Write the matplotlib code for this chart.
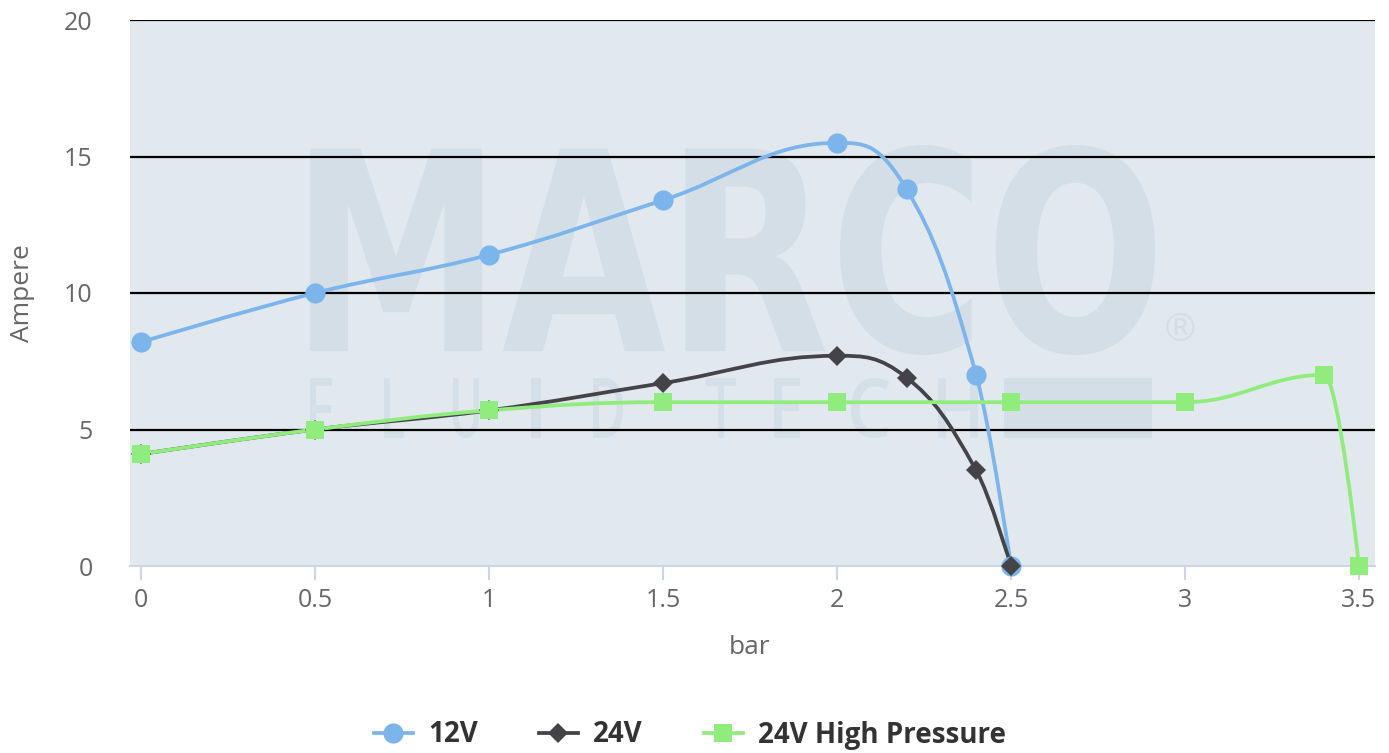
import numpy as np
import matplotlib.pyplot as plt
from matplotlib.path import Path
from matplotlib.patches import PathPatch, Rectangle
from matplotlib.textpath import TextPath
from matplotlib.font_manager import FontProperties
from matplotlib.lines import Line2D
import matplotlib.transforms as mtransforms

# pressure (bar) -> current (Ampere)
x_12v = [0, 0.5, 1, 1.5, 2, 2.2, 2.4, 2.5]
y_12v = [8.2, 10.0, 11.4, 13.4, 15.5, 13.8, 7.0, 0]

x_24v = [0, 0.5, 1, 1.5, 2, 2.2, 2.4, 2.5]
y_24v = [4.1, 5.0, 5.7, 6.7, 7.7, 6.9, 3.5, 0]

x_hp = [0, 0.5, 1, 1.5, 2, 2.5, 3, 3.4, 3.5]
y_hp = [4.1, 5.0, 5.7, 6.0, 6.0, 6.0, 6.0, 7.0, 0]

series_names = ["12V", "24V", "24V High Pressure"]
colors = ["#7cb5ec", "#434348", "#90ed7d"]
markers = ["o", "D", "s"]
xticks = [0, 0.5, 1, 1.5, 2, 2.5, 3, 3.5]
xtick_labels = ["0", "0.5", "1", "1.5", "2", "2.5", "3", "3.5"]
yticks = [0, 5, 10, 15, 20]


def spline_path(xs, ys, smoothing=1.5):
    # highcharts-like spline: cubic bezier with control points per point
    n = len(xs)
    left = [None] * n
    right = [None] * n
    for i in range(n):
        px, py = xs[i], ys[i]
        if i == 0 or i == n - 1:
            left[i] = (px, py)
            right[i] = (px, py)
            continue
        lx, ly = xs[i - 1], ys[i - 1]
        nx, ny = xs[i + 1], ys[i + 1]
        d = smoothing + 1
        lcx = (smoothing * px + lx) / d
        lcy = (smoothing * py + ly) / d
        rcx = (smoothing * px + nx) / d
        rcy = (smoothing * py + ny) / d
        if rcx != lcx:
            corr = (rcy - lcy) * (rcx - px) / (rcx - lcx) + py - rcy
            lcy += corr
            rcy += corr
        if lcy > max(ly, py):
            lcy = max(ly, py)
            rcy = 2 * py - lcy
        elif lcy < min(ly, py):
            lcy = min(ly, py)
            rcy = 2 * py - lcy
        if rcy > max(py, ny):
            rcy = max(py, ny)
            lcy = 2 * py - rcy
        elif rcy < min(py, ny):
            rcy = min(py, ny)
            lcy = 2 * py - rcy
        left[i] = (lcx, lcy)
        right[i] = (rcx, rcy)
    verts = [(xs[0], ys[0])]
    codes = [Path.MOVETO]
    for i in range(1, n):
        verts += [right[i - 1], left[i], (xs[i], ys[i])]
        codes += [Path.CURVE4] * 3
    return Path(verts, codes)


def text_in_box(ax, s, box, color, weight="bold", family="DejaVu Sans"):
    # stretch a text outline into a box given in axes fractions
    tp = TextPath((0, 0), s, prop=FontProperties(family=family, weight=weight))
    bb = tp.get_extents()
    x0, x1, y0, y1 = box
    tr = mtransforms.Affine2D().translate(-bb.x0, -bb.y0).scale(
        (x1 - x0) / bb.width, (y1 - y0) / bb.height).translate(x0, y0)
    ax.add_patch(PathPatch(tr.transform_path(tp), facecolor=color,
                           edgecolor="none", transform=ax.transAxes, zorder=0))


fig = plt.figure(figsize=(13.89, 7.53), dpi=100)
W, H = 1245.0, 546.0
ax = fig.add_axes([130 / 1389, 1 - 566 / 753, W / 1389, H / 753])
ax.set_facecolor("#e1e8ee")

# watermark
wm = "#d3dee6"
text_in_box(ax, "MARCO", ((310 - 130) / W, (1155 - 130) / W, (566 - 355) / H, (566 - 145) / H), wm)
wm_letters = "FLUIDTECH"
wm_left = [310, 384, 453, 531, 593, 706, 774, 851, 938]
wm_right = [332, 404, 479, 541, 623, 736, 800, 889, 978]
for ch, l, r in zip(wm_letters, wm_left, wm_right):
    text_in_box(ax, ch, ((l - 130) / W, (r - 130) / W, (566 - 438) / H, (566 - 378) / H),
                "#d4dfe7", weight="semibold", family="Open Sans")
ax.add_patch(Rectangle(((1004 - 130) / W, (566 - 438) / H), 148 / W, 60 / H,
                       transform=ax.transAxes, facecolor=wm, edgecolor="none", zorder=0))
ax.text((1180 - 130) / W, (566 - 330) / H, "®", transform=ax.transAxes, fontsize=28,
        color=wm, ha="center", va="center", zorder=0)

for yv in yticks[1:]:
    ax.axhline(yv, color="black", lw=1.6, zorder=1)

data = [(x_12v, y_12v), (x_24v, y_24v), (x_hp, y_hp)]
msizes = [14.5, 10.5, 13]
handles = []
for (xs, ys), c, m, ms, name in zip(data, colors, markers, msizes, series_names):
    ax.add_patch(PathPatch(spline_path(xs, ys), facecolor="none", edgecolor=c,
                           lw=2.7, zorder=3, capstyle="round", joinstyle="round"))
    ax.plot(xs, ys, linestyle="none", marker=m, markersize=ms, color=c,
            markeredgewidth=0, zorder=4, clip_on=False)
    handles.append(Line2D([], [], color=c, lw=2.7, marker=m, markersize=ms,
                          markeredgewidth=0, label=name))

ax.set_xlim(-0.0316, 3.546)
ax.set_ylim(0, 20)
ax.set_xticks(xticks)
ax.set_xticklabels(xtick_labels)
ax.set_yticks(yticks)
for s in ["top", "right", "left"]:
    ax.spines[s].set_visible(False)
ax.spines["bottom"].set_color("#ccd6eb")
ax.spines["bottom"].set_linewidth(1.5)
ax.spines["bottom"].set_zorder(2)
ax.tick_params(axis="x", colors="#ccd6eb", length=10, width=1.5, pad=6,
               labelcolor="#666666", labelsize=18)
ax.tick_params(axis="y", length=0, pad=27, labelcolor="#666666", labelsize=18)
for lab in ax.get_xticklabels() + ax.get_yticklabels():
    lab.set_family("Open Sans")

ax.set_xlabel("bar", fontsize=19, color="#666666", family="Open Sans")
ax.set_ylabel("Ampere", fontsize=19, color="#666666", family="Open Sans")
ax.xaxis.set_label_coords((750 - 130) / W, -(648 - 566) / H)
ax.yaxis.set_label_coords(-(130 - 22) / W, 0.5)
ax.xaxis.label.set_va("center")
ax.yaxis.label.set_va("center")

fig.legend(handles=handles, loc="center", bbox_to_anchor=(690 / 1389, 1 - 735 / 753),
           ncol=3, frameon=False, handlelength=1.4, columnspacing=2.2,
           handletextpad=0.55, prop={"family": "Open Sans", "weight": "bold", "size": 20},
           labelcolor="#333333")

fig.savefig("out.png", dpi=100)
